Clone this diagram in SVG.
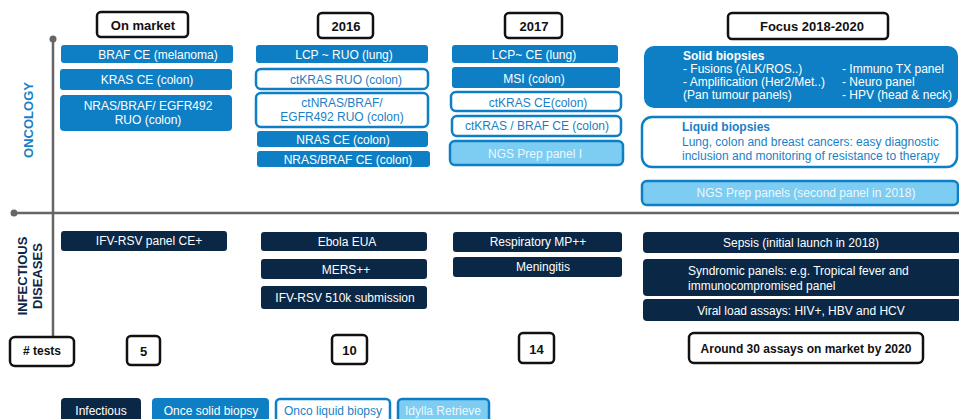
<svg xmlns="http://www.w3.org/2000/svg" width="959" height="419" viewBox="0 0 959 419">
<style>
text{font-family:"Liberation Sans",Arial,sans-serif;font-size:12px}
.c{text-anchor:middle}
.solid{fill:#0e7fc5}
.navy{fill:#0a2846}
.outl{fill:#fff;stroke:#0e7fc5;stroke-width:2.5}
.light{fill:#7dccf2;stroke:#0e7fc5;stroke-width:2.5}
.hdr{fill:#fff;stroke:#111;stroke-width:2.5}
.tw{fill:#fff}
.tb{fill:#1a7fc6}
.tl{fill:#eef8fd}
.bold{font-weight:bold;fill:#111;font-size:13px}
.axis{stroke:#666;stroke-width:2.5;fill:none}
</style>
<rect width="959" height="419" fill="#fff"/>
<g id="connectors">
<line class="axis" x1="53" y1="39" x2="53" y2="337"/>
<line class="axis" x1="14" y1="213" x2="959" y2="213"/>
<circle cx="53" cy="39" r="3.5" fill="#666"/>
<circle cx="14" cy="213" r="3.5" fill="#666"/>
</g>
<g id="axis-labels">
<text class="bold" transform="translate(33,120) rotate(-90)" text-anchor="middle" style="fill:#1a7fc6">ONCOLOGY</text>
<text class="bold" transform="translate(27,276) rotate(-90)" text-anchor="middle" style="fill:#0a2846">INFECTIOUS</text>
<text class="bold" transform="translate(42,276) rotate(-90)" text-anchor="middle" style="fill:#0a2846">DISEASES</text>
</g>
<g id="hdr-onmarket"><rect class="hdr" x="97" y="12" width="91" height="25" rx="4"/><text class="bold c" x="143" y="30">On market</text></g>
<g id="hdr-2016"><rect class="hdr" x="318" y="13" width="55" height="25" rx="4"/><text class="bold c" x="346" y="31">2016</text></g>
<g id="hdr-2017"><rect class="hdr" x="505" y="13" width="57" height="25" rx="4"/><text class="bold c" x="534" y="31">2017</text></g>
<g id="hdr-focus"><rect class="hdr" x="728" y="13" width="160" height="26" rx="4"/><text class="bold c" x="812" y="31">Focus 2018-2020</text></g>

<g id="n-braf"><rect class="solid" x="61" y="45" width="172" height="18" rx="3"/><text class="tw c" x="158" y="58.5">BRAF CE (melanoma)</text></g>
<g id="n-kras"><rect class="solid" x="60" y="69" width="172" height="21" rx="3"/><text class="tw c" x="147" y="84">KRAS CE (colon)</text></g>
<g id="n-nras"><rect class="solid" x="60" y="95" width="172" height="36" rx="4"/><text class="tw c" x="148" y="110">NRAS/BRAF/ EGFR492</text><text class="tw c" x="148" y="124">RUO (colon)</text></g>

<g id="n-lcp16"><rect class="solid" x="256" y="45" width="172" height="18" rx="3"/><text class="tw c" x="344" y="58.5">LCP ~ RUO (lung)</text></g>
<g id="n-ctkras16"><rect class="outl" x="256" y="69" width="172" height="20" rx="5"/><text class="tb c" x="346" y="84">ctKRAS RUO (colon)</text></g>
<g id="n-ctnras16"><rect class="outl" x="256" y="93" width="172" height="34" rx="5"/><text class="tb c" x="342" y="107">ctNRAS/BRAF/</text><text class="tb c" x="342" y="121">EGFR492 RUO (colon)</text></g>
<g id="n-nras16"><rect class="solid" x="257" y="131" width="171" height="16" rx="3"/><text class="tw c" x="343" y="143.5">NRAS CE (colon)</text></g>
<g id="n-nrasbraf16"><rect class="solid" x="257" y="151" width="173" height="16" rx="3"/><text class="tw c" x="348" y="163.5">NRAS/BRAF CE (colon)</text></g>

<g id="n-lcp17"><rect class="solid" x="452" y="45" width="166" height="18" rx="3"/><text class="tw c" x="534" y="58.5">LCP~ CE (lung)</text></g>
<g id="n-msi"><rect class="solid" x="452" y="67" width="168" height="21" rx="3"/><text class="tw c" x="534" y="82.5">MSI (colon)</text></g>
<g id="n-ctkras17"><rect class="outl" x="451" y="92" width="170" height="19" rx="5"/><text class="tb c" x="538" y="106.5">ctKRAS CE(colon)</text></g>
<g id="n-ctkrasbraf17"><rect class="outl" x="452" y="116" width="169" height="20" rx="5"/><text class="tb c" x="537" y="130">ctKRAS / BRAF CE (colon)</text></g>
<g id="n-ngs17"><rect class="light" x="450" y="141" width="173" height="24" rx="5"/><text class="tl c" x="535" y="157.5">NGS Prep panel I</text></g>

<g id="n-solid"><rect class="solid" x="644" y="46" width="314" height="62" rx="10"/>
<text class="tw" x="683" y="60" font-weight="bold">Solid biopsies</text>
<text class="tw" x="683" y="73">- Fusions (ALK/ROS..)</text>
<text class="tw" x="683" y="86">- Amplification (Her2/Met..)</text>
<text class="tw" x="683" y="99">(Pan tumour panels)</text>
<text class="tw" x="842" y="73">- Immuno TX panel</text>
<text class="tw" x="842" y="86">- Neuro panel</text>
<text class="tw" x="842" y="99">- HPV (head &amp; neck)</text>
</g>
<g id="n-liquid"><rect class="outl" x="642" y="117" width="315" height="50" rx="10"/>
<text class="tb" x="682" y="131" font-weight="bold">Liquid biopsies</text>
<text class="tb" x="682" y="146">Lung, colon and breast cancers: easy diagnostic</text>
<text class="tb" x="682" y="160">inclusion and monitoring of resistance to therapy</text>
</g>
<g id="n-ngsfocus"><rect class="light" x="642" y="181" width="316" height="24" rx="5"/><text class="tl c" x="806" y="197">NGS Prep panels (second panel in 2018)</text></g>

<g id="n-ifv"><rect class="navy" x="61" y="231" width="166" height="20" rx="3"/><text class="tw c" x="149" y="245">IFV-RSV panel CE+</text></g>
<g id="n-ebola"><rect class="navy" x="261" y="232" width="166" height="19" rx="3"/><text class="tw c" x="347" y="245.5">Ebola EUA</text></g>
<g id="n-mers"><rect class="navy" x="261" y="259" width="166" height="20" rx="3"/><text class="tw c" x="346" y="273.5">MERS++</text></g>
<g id="n-ifv510"><rect class="navy" x="261" y="286" width="166" height="23" rx="3"/><text class="tw c" x="345" y="302">IFV-RSV 510k submission</text></g>
<g id="n-resp"><rect class="navy" x="453" y="232" width="169" height="20" rx="3"/><text class="tw c" x="538" y="246">Respiratory MP++</text></g>
<g id="n-men"><rect class="navy" x="453" y="257" width="169" height="20" rx="3"/><text class="tw c" x="543" y="270.5">Meningitis</text></g>
<g id="n-sepsis"><rect class="navy" x="643" y="232" width="318" height="21" rx="4"/><text class="tw c" x="801" y="246.5">Sepsis (initial launch in 2018)</text></g>
<g id="n-synd"><rect class="navy" x="643" y="259" width="318" height="37" rx="4"/><text class="tw" x="688" y="275">Syndromic panels: e.g. Tropical fever and</text><text class="tw" x="688" y="290">immunocompromised panel</text></g>
<g id="n-viral"><rect class="navy" x="643" y="299" width="318" height="22" rx="4"/><text class="tw c" x="801" y="315">Viral load assays: HIV+, HBV and HCV</text></g>

<g id="n-tests"><rect class="hdr" x="10" y="337" width="64" height="29" rx="5"/><text class="bold" x="42" y="355" text-anchor="middle" style="font-size:12px">#&#160;tests</text></g>
<g id="n-5"><rect class="hdr" x="127" y="336" width="33" height="29" rx="4"/><text class="bold c" x="143.5" y="356">5</text></g>
<g id="n-10"><rect class="hdr" x="332" y="335" width="35" height="29" rx="4"/><text class="bold c" x="349.5" y="355">10</text></g>
<g id="n-14"><rect class="hdr" x="519" y="333" width="35" height="30" rx="4"/><text class="bold c" x="536.5" y="353.5">14</text></g>
<g id="n-30"><rect class="hdr" x="689" y="333" width="234" height="30" rx="5"/><text class="bold c" x="806" y="353" style="font-size:12px">Around 30 assays on market by 2020</text></g>

<g id="legend-infectious"><rect class="navy" x="61" y="398" width="80" height="26" rx="4"/><text class="tw c" x="101" y="415">Infectious</text></g>
<g id="legend-solid"><rect class="solid" x="152" y="398" width="117" height="26" rx="4"/><text class="tw c" x="211" y="415">Once solid biopsy</text></g>
<g id="legend-liquid"><rect class="outl" x="276" y="399" width="114" height="25" rx="4"/><text class="tb c" x="333" y="415">Onco liquid biopsy</text></g>
<g id="legend-idylla"><rect class="light" x="398" y="399" width="91" height="25" rx="4"/><text class="tl c" x="443" y="415">Idylla Retrieve</text></g>
</svg>
